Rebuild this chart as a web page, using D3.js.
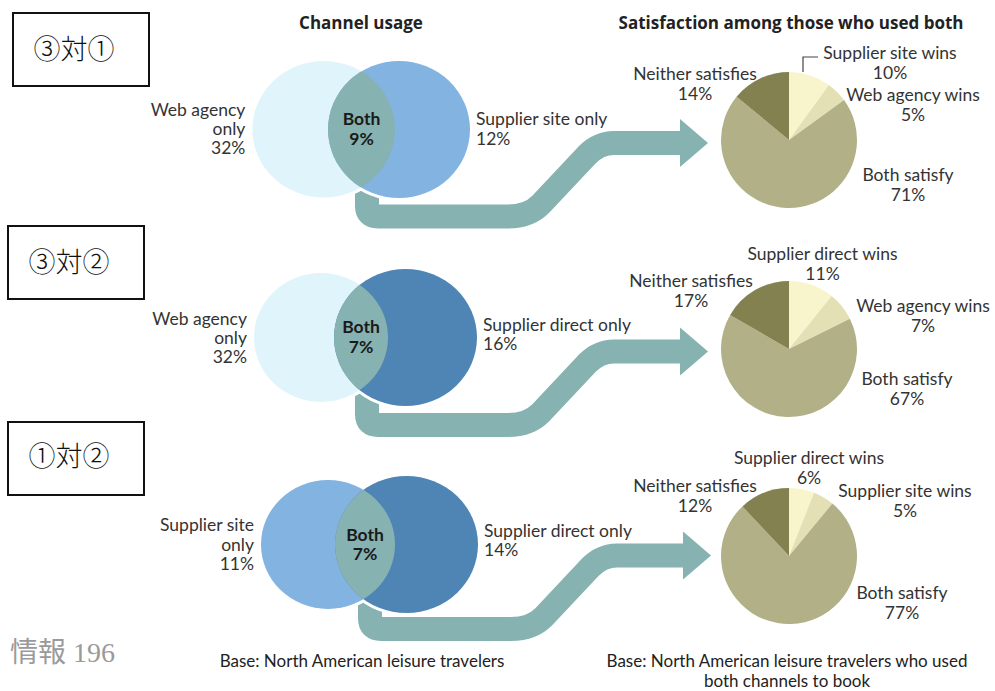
<!DOCTYPE html>
<html><head><meta charset="utf-8">
<script src="https://cdn.jsdelivr.net/npm/d3@7/dist/d3.min.js"></script>
<style>body{margin:0;background:#fff}svg{display:block}</style>
</head><body>
<script>
// ---------- data ----------
const panelTitles = ["③対①", "③対②", "①対②"];
const vennLeftLabels = [["Web agency", "only"], ["Web agency", "only"], ["Supplier site", "only"]];
const vennLeftValues = [32, 32, 11];
const vennRightLabels = ["Supplier site only", "Supplier direct only", "Supplier direct only"];
const vennRightValues = [12, 16, 14];
const bothValues = [9, 7, 7];
const pieCategories = [
  ["Supplier site wins", "Web agency wins", "Both satisfy", "Neither satisfies"],
  ["Supplier direct wins", "Web agency wins", "Both satisfy", "Neither satisfies"],
  ["Supplier direct wins", "Supplier site wins", "Both satisfy", "Neither satisfies"]
];
const pieValues = [[10, 5, 71, 14], [11, 7, 67, 17], [6, 5, 77, 12]];
const leftTitle = "Channel usage";
const rightTitle = "Satisfaction among those who used both";
const footLeft = ["Base: North American leisure travelers"];
const footRight = ["Base: North American leisure travelers who used", "both channels to book"];
const pageNote = "情報 196";

// ---------- layout / style ----------
const W = 995, H = 691;
const C = {
  web: "#e0f4fc", site: "#82b3e1", direct: "#4f85b4", both: "#86b2b2", arrow: "#86b2b2",
  pie: ["#f8f5cc", "#e3e0b5", "#b2b087", "#83814f"], text: "#333"
};
const vennLeftColor = [C.web, C.web, C.site];
const vennRightColor = [C.site, C.direct, C.direct];
const layout = [
  {box: [13, 13, 136, 73], bt: [74, 50], L: [323.7, 129.3, 71.3, 68.2], R: [399, 129.5, 71, 68.5], pie: [789, 140], arrow: [0, 0],
   leftDy: [-19, 0, 19], rightDy: [-11, 9], bothDy: [-10.5, 9.5],
   pl: [[101, -87], [124, -45], [119, 35], [-94, -66]], leader: true},
  {box: [8, 226, 136, 73], bt: [69, 263], L: [321, 337.5, 67, 64.5], R: [405.5, 337.5, 71.5, 68.5], pie: [789, 349], arrow: [0, 208.5],
   leftDy: [-18.5, 0.5, 19.5], rightDy: [-13, 6], bothDy: [-10.5, 9.5],
   pl: [[33.5, -95], [134, -43], [118, 30], [-98, -68]], leader: false},
  {box: [8, 422, 136, 73], bt: [69, 457], L: [328, 544.5, 67, 64.5], R: [406.5, 544.5, 71.5, 68.5], pie: [789, 556], arrow: [3, 412.5],
   leftDy: [-19.5, 0, 19], rightDy: [-14, 5.5], bothDy: [-10, 9.5],
   pl: [[20, -98], [116, -65], [113, 37], [-94, -70]], leader: false}
];
const FONT = "Lato, 'Open Sans', sans-serif";
const FS = 17.5;
const LH = 19.5;

const svg = d3.select("body").append("svg").attr("width", W).attr("height", H)
  .style("font-family", FONT);
const defs = svg.append("defs");

// titles
svg.append("text").attr("x", 361).attr("y", 29).attr("text-anchor", "middle")
  .attr("font-family", "'Open Sans', sans-serif")
  .attr("font-weight", 700).attr("font-size", 17).attr("fill", "#222").text(leftTitle);
svg.append("text").attr("x", 791).attr("y", 29).attr("text-anchor", "middle")
  .attr("font-family", "'Open Sans', sans-serif")
  .attr("font-weight", 700).attr("font-size", 17).attr("fill", "#222").text(rightTitle);

const pieGen = d3.pie().sort(null).value(d => d);
const arcGen = d3.arc().innerRadius(0).outerRadius(68);

layout.forEach((P, i) => {
  const g = svg.append("g");
  // box
  g.append("rect").attr("x", P.box[0]).attr("y", P.box[1]).attr("width", P.box[2]).attr("height", P.box[3])
    .attr("fill", "#fff").attr("stroke", "#111").attr("stroke-width", 2);
  g.append("text").attr("x", P.bt[0]).attr("y", P.bt[1] + 9).attr("text-anchor", "middle")
    .attr("font-family", "'Noto Sans CJK JP', sans-serif").attr("font-weight", 300)
    .attr("font-size", 27).attr("fill", "#111").text(panelTitles[i]);

  // arrow (decorative connector), relative to panel offset
  const [ox, oy] = P.arrow;
  const ag = g.append("g").attr("transform", `translate(${ox},${oy})`);
  const sp = d3.path();
  sp.moveTo(367, 175); sp.lineTo(367, 206);
  sp.quadraticCurveTo(367, 216.5, 378, 216.5);
  sp.lineTo(508, 216.5);
  sp.quadraticCurveTo(529, 216.5, 541, 204);
  sp.lineTo(587, 155);
  sp.quadraticCurveTo(599, 143, 614, 143);
  sp.lineTo(684, 143);
  ag.append("path").attr("d", sp.toString()).attr("fill", "none")
    .attr("stroke", C.arrow).attr("stroke-width", 24);
  ag.append("path").attr("d", "M680,119L708,143L680,167Z").attr("fill", C.arrow);

  // venn halo
  [P.L, P.R].forEach(e => {
    g.append("ellipse").attr("cx", e[0]).attr("cy", e[1]).attr("rx", e[2] + 3).attr("ry", e[3] + 3).attr("fill", "#fff");
  });
  g.append("ellipse").attr("cx", P.L[0]).attr("cy", P.L[1]).attr("rx", P.L[2]).attr("ry", P.L[3]).attr("fill", vennLeftColor[i]);
  g.append("ellipse").attr("cx", P.R[0]).attr("cy", P.R[1]).attr("rx", P.R[2]).attr("ry", P.R[3]).attr("fill", vennRightColor[i]);
  const cid = "clipL" + i;
  defs.append("clipPath").attr("id", cid).append("ellipse")
    .attr("cx", P.L[0]).attr("cy", P.L[1]).attr("rx", P.L[2]).attr("ry", P.L[3]);
  g.append("ellipse").attr("cx", P.R[0]).attr("cy", P.R[1]).attr("rx", P.R[2]).attr("ry", P.R[3])
    .attr("fill", C.both).attr("clip-path", `url(#${cid})`);

  // venn labels
  const lx = P.L[0] - P.L[2] - 7;
  const leftLines = vennLeftLabels[i].concat([vennLeftValues[i] + "%"]);
  leftLines.forEach((t, k) => {
    g.append("text").attr("x", lx).attr("y", P.L[1] + P.leftDy[k] + 6).attr("text-anchor", "end")
      .attr("font-size", FS).attr("fill", C.text).text(t);
  });
  const rx = P.R[0] + P.R[2] + 6;
  [vennRightLabels[i], vennRightValues[i] + "%"].forEach((t, k) => {
    g.append("text").attr("x", rx).attr("y", P.R[1] + P.rightDy[k] + 6).attr("text-anchor", "start")
      .attr("font-size", FS).attr("fill", C.text).text(t);
  });
  const bx = ((P.L[0] + P.L[2]) + (P.R[0] - P.R[2])) / 2;
  ["Both", bothValues[i] + "%"].forEach((t, k) => {
    g.append("text").attr("x", bx).attr("y", P.L[1] + P.bothDy[k] + 6).attr("text-anchor", "middle")
      .attr("font-size", FS).attr("font-weight", 700).attr("fill", "#1a1a1a").text(t);
  });

  // pie
  const pg = g.append("g").attr("transform", `translate(${P.pie[0]},${P.pie[1]})`);
  pg.selectAll("path").data(pieGen(pieValues[i])).join("path")
    .attr("d", arcGen).attr("fill", (d, k) => C.pie[k]);
  pieCategories[i].forEach((cat, k) => {
    const [dx, dy] = P.pl[k];
    [cat, pieValues[i][k] + "%"].forEach((t, m) => {
      pg.append("text").attr("x", dx).attr("y", dy + m * LH + 6).attr("text-anchor", "middle")
        .attr("font-size", FS).attr("fill", C.text).text(t);
    });
  });
  if (P.leader) {
    pg.append("path").attr("d", "M14,-68V-83H29").attr("fill", "none").attr("stroke", "#444").attr("stroke-width", 1.2);
  }
});

// footers
footLeft.forEach((t, k) => {
  svg.append("text").attr("x", 362).attr("y", 667 + k * 19.5).attr("text-anchor", "middle")
    .attr("font-size", 17).attr("fill", "#222").text(t);
});
footRight.forEach((t, k) => {
  svg.append("text").attr("x", 787).attr("y", 667 + k * 19.5).attr("text-anchor", "middle")
    .attr("font-size", 17).attr("fill", "#222").text(t);
});
svg.append("text").attr("x", 10).attr("y", 662).attr("font-family", "'Liberation Serif', 'Noto Sans CJK JP', serif")
  .attr("font-size", 28).attr("fill", "#9a9a9a").text(pageNote);
</script>
</body></html>
